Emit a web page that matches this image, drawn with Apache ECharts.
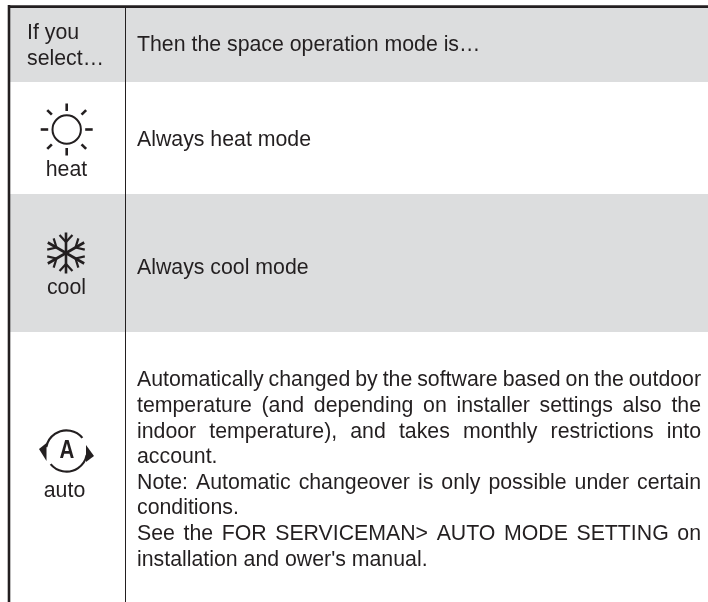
<!DOCTYPE html>
<html><head><meta charset="utf-8">
<style>html,body{margin:0;padding:0;background:#fff}#c{width:708px;height:602px}</style>
<script src="https://cdn.jsdelivr.net/npm/echarts@6/dist/echarts.min.js"></script>
</head><body><div id="c"></div>
<script>
var headerLeft = ['If you', 'select…'];
var headerRight = 'Then the space operation mode is…';
var modeNames = ['heat', 'cool', 'auto'];
var modeTexts = ['Always heat mode', 'Always cool mode'];
var autoLines = [
  'Automatically changed by the software based on the outdoor',
  'temperature (and depending on installer settings also the',
  'indoor temperature), and takes monthly restrictions into',
  'account.',
  'Note: Automatic changeover is only possible under certain',
  'conditions.',
  'See the FOR SERVICEMAN> AUTO MODE SETTING on',
  "installation and ower's manual."
];
var justified = [true, true, true, false, true, false, true, false];

var INK = '#231f20', GRAY = '#dcddde', FONT = '"Liberation Sans", Arial, sans-serif', SIZE = 21.3;
var L = 9, R = 708, TEXTX = 137, TEXTR = 701, OFF = 5.2;
var g = [];
var mctx = document.createElement('canvas').getContext('2d');
mctx.font = SIZE + 'px "Liberation Sans"';

function rect(x, y, w, h) { g.push({type:'rect', silent:true, shape:{x:x,y:y,width:w,height:h}, style:{fill:GRAY}}); }
function line(x1, y1, x2, y2, w) { g.push({type:'line', silent:true, shape:{x1:x1,y1:y1,x2:x2,y2:y2}, style:{stroke:INK, lineWidth:w}}); }
function text(t, x, base, align) { g.push({type:'text', silent:true, x:x, y:base-OFF, style:{text:t, fill:INK, font:SIZE+'px '+FONT, textAlign:align||'left', textVerticalAlign:'middle'}}); }
function poly(p) { g.push({type:'polygon', silent:true, shape:{points:p}, style:{fill:INK}}); }

rect(L, 8, R-L, 74);
rect(L, 194, R-L, 138);
line(9, 5, 9, 602, 2.6);
line(8, 6.6, 708, 6.6, 2.6);
line(125.5, 8, 125.5, 602, 1);

text(headerLeft[0], 27, 38);
text(headerLeft[1], 27, 64);
text(headerRight, TEXTX, 50.7);
text(modeNames[0], 66.5, 175, 'center');
text(modeTexts[0], TEXTX, 145);
text(modeNames[1], 66.5, 293, 'center');
text(modeTexts[1], TEXTX, 273);
text(modeNames[2], 64.5, 496, 'center');

autoLines.forEach(function (s, i) {
  var base = 385.7 + i * 25.6;
  if (!justified[i]) { text(s, TEXTX, base); return; }
  var words = s.split(' ');
  var total = words.reduce(function (a, w) { return a + mctx.measureText(w).width; }, 0);
  var gap = (TEXTR - TEXTX - total) / (words.length - 1);
  var x = TEXTX;
  words.forEach(function (w) { text(w, x, base); x += mctx.measureText(w).width + gap; });
});

// sun icon
var sx = 66.7, sy = 129.5;
g.push({type:'circle', silent:true, shape:{cx:sx, cy:sy, r:14.2}, style:{fill:'none', stroke:INK, lineWidth:2}});
for (var a = 0; a < 8; a++) {
  var an = a * Math.PI / 4, r1 = a % 2 ? 21 : 18.5, r2 = a % 2 ? 27.5 : 26;
  line(sx + r1*Math.cos(an), sy + r1*Math.sin(an), sx + r2*Math.cos(an), sy + r2*Math.sin(an), 2.6);
}

// snowflake icon
var fx = 66, fy = 253;
for (var b = 0; b < 6; b++) {
  var t = b * Math.PI / 3 - Math.PI / 2, c = Math.cos(t), d = Math.sin(t);
  var R0 = b % 3 === 0 ? 20.5 : 21;
  line(fx, fy, fx + R0*c, fy + R0*d, 2.6);
  var m = 11;
  [-1, 1].forEach(function (sgn) {
    var t2 = t + sgn * Math.PI / 4.2;
    line(fx + m*c, fy + m*d, fx + m*c + 9.5*Math.cos(t2), fy + m*d + 9.5*Math.sin(t2), 2.2);
  });
}

// auto icon
var ax = 66.5, ay = 451, ar = 20.6;
g.push({type:'arc', silent:true, shape:{cx:ax, cy:ay, r:ar, startAngle:Math.PI*1.06, endAngle:Math.PI*1.78, clockwise:true}, style:{fill:'none', stroke:INK, lineWidth:2.2}});
g.push({type:'arc', silent:true, shape:{cx:ax, cy:ay, r:ar, startAngle:Math.PI*0.06, endAngle:Math.PI*0.78, clockwise:true}, style:{fill:'none', stroke:INK, lineWidth:2.2}});
poly([[39,449],[46.5,443],[46.5,461]]);
poly([[86,445],[94,456],[86,462]]);
g.push({type:'text', silent:true, x:67, y:451.5, scaleX:0.82, style:{text:'A', fill:INK, font:'bold 25px '+FONT, textAlign:'center', textVerticalAlign:'middle'}});

var chart = echarts.init(document.getElementById('c'), null, {renderer:'canvas'});
chart.setOption({animation:false, backgroundColor:'#fff', graphic:{elements:g}});
</script>
</body></html>
